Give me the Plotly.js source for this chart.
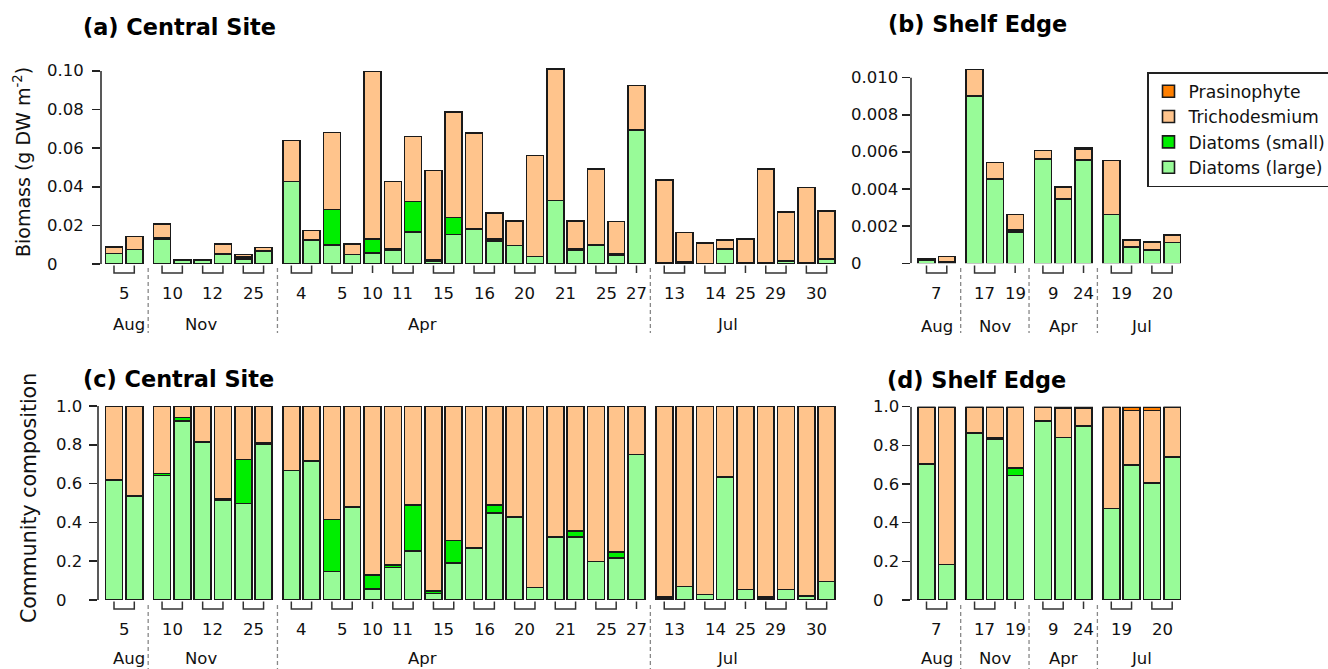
<!DOCTYPE html>
<html>
<head>
<meta charset="utf-8">
<script src="https://cdn.plot.ly/plotly-3.0.1.min.js"></script>
<style>
html,body{margin:0;padding:0;background:#fff;}
#chart{width:1328px;height:669px;}
</style>
</head>
<body>
<div id="chart"></div>
<script>
// ================= DATA =================
// Central Site: one entry per bar
const centralMonths = ["Aug","Aug","Nov","Nov","Nov","Nov","Nov","Nov",
  "Apr","Apr","Apr","Apr","Apr","Apr","Apr","Apr","Apr","Apr","Apr","Apr","Apr","Apr","Apr","Apr","Apr","Apr",
  "Jul","Jul","Jul","Jul","Jul","Jul","Jul","Jul","Jul"];
const centralDates = ["5","5","10","10","12","12","25","25",
  "4","4","5","5","10","11","11","15","15","16","16","20","20","21","21","25","25","27",
  "13","13","14","14","25","29","29","30","30"];

// (a) biomass, g DW m-2
const centralLarge = [0.0055,0.0076,0.0131,0.0022,0.0019,0.0053,0.0025,0.0068,
  0.0427,0.0124,0.0100,0.0049,0.0057,0.0072,0.0167,0.0016,0.0152,0.0180,0.0118,0.0096,0.0038,0.0328,0.0073,0.0097,0.0048,0.0694,
  0.0004,0.0011,0.0003,0.0079,0.0007,0.0005,0.0015,0.0007,0.0026];
const centralSmall = [0,0,0.0003,0.00005,0,0.0001,0.0011,0.00005,
  0,0,0.0183,0.0001,0.0072,0.0005,0.0157,0.0006,0.0089,0.0002,0.0011,0,0,0,0.0007,0,0.0006,0,
  0.0002,0.0001,0,0,0,0.0002,0,0.0001,0];
const centralTricho = [0.0032,0.0066,0.0072,0.00015,0.0004,0.0050,0.0014,0.0017,
  0.0212,0.0050,0.0399,0.0054,0.0869,0.0351,0.0337,0.0463,0.0548,0.0497,0.0134,0.0128,0.0525,0.0681,0.0144,0.0395,0.0167,0.0230,
  0.0428,0.0152,0.0107,0.0045,0.0124,0.0485,0.0253,0.0389,0.0250];
const centralPrasino = [0,0,0,0,0,0,0,0, 0,0,0,0,0,0,0,0,0,0,0,0,0,0,0,0,0,0, 0,0,0,0,0,0,0,0,0];

// (c) community composition (fractions)
const centralFracLarge = [0.619,0.536,0.641,0.924,0.813,0.517,0.498,0.804,
  0.667,0.716,0.146,0.478,0.057,0.168,0.253,0.033,0.192,0.265,0.450,0.428,0.065,0.325,0.325,0.198,0.218,0.751,
  0.009,0.069,0.028,0.634,0.055,0.010,0.055,0.019,0.095];
const centralFracSmall = [0,0,0.012,0.016,0,0.005,0.227,0.005,
  0,0,0.268,0.004,0.072,0.011,0.237,0.013,0.114,0.004,0.040,0,0,0,0.031,0,0.028,0,
  0.005,0,0,0,0,0.004,0,0.002,0];
const centralFracTricho = [0.381,0.464,0.347,0.060,0.187,0.478,0.275,0.191,
  0.333,0.284,0.586,0.518,0.871,0.821,0.510,0.954,0.694,0.731,0.510,0.572,0.935,0.675,0.644,0.802,0.754,0.249,
  0.986,0.931,0.972,0.366,0.945,0.986,0.945,0.979,0.905];
const centralFracPrasino = [0,0,0,0,0,0,0,0, 0,0,0,0,0,0,0,0,0,0,0,0,0,0,0,0,0,0, 0,0,0,0,0,0,0,0,0];

// Shelf Edge
const shelfMonths = ["Aug","Aug","Nov","Nov","Nov","Apr","Apr","Apr","Jul","Jul","Jul","Jul"];
const shelfDates = ["7","7","17","17","19","9","9","24","19","19","20","20"];

// (b) biomass
const shelfLarge = [0.00017,0.00007,0.00900,0.00452,0.00170,0.00560,0.00346,0.00557,0.00262,0.00088,0.00071,0.00112];
const shelfSmall = [0.00001,0,0,0.00003,0.00010,0.00002,0,0,0,0,0,0];
const shelfTricho = [0.00007,0.00029,0.00145,0.00089,0.00084,0.00045,0.00063,0.00060,0.00291,0.00036,0.00044,0.00040];
const shelfPrasino = [0,0,0,0,0,0,0.00002,0.00003,0,0.00002,0.00002,0];

// (d) composition
const shelfFracLarge = [0.705,0.183,0.864,0.833,0.645,0.924,0.840,0.900,0.474,0.697,0.604,0.741];
const shelfFracSmall = [0,0,0,0.005,0.038,0.004,0,0,0,0,0,0];
const shelfFracTricho = [0.295,0.817,0.136,0.162,0.317,0.072,0.153,0.094,0.526,0.284,0.377,0.259];
const shelfFracPrasino = [0,0,0,0,0,0,0.007,0.006,0,0.019,0.019,0];

// Tick values and labels
const biomassTicksA = [0,0.02,0.04,0.06,0.08,0.10];
const biomassTickTextA = ["0","0.02","0.04","0.06","0.08","0.10"];
const biomassTicksB = [0,0.002,0.004,0.006,0.008,0.010];
const biomassTickTextB = ["0","0.002","0.004","0.006","0.008","0.010"];
const compTicks = [0,0.2,0.4,0.6,0.8,1.0];
const compTickText = ["0","0.2","0.4","0.6","0.8","1.0"];

// ================= STYLE / LAYOUT =================
const W = 1328, H = 669;
const C_LARGE = "#98FB98", C_SMALL = "#00EE00", C_TRICHO = "#FFC48C", C_PRAS = "#FF7F00";
const OUTLINE = "#1a1a1a";
const FONT = "DejaVu Sans, Verdana, sans-serif";
const TXT = "#111";
const PITCH = 1.2, MGAP = 0.44, BARW = 1.0;
const U = 16.92; // px per x unit

function positions(months){
  const pos = []; let g = 0;
  for (let i = 0; i < months.length; i++){
    if (i > 0 && months[i] !== months[i-1]) g++;
    pos.push(i*PITCH + g*MGAP);
  }
  return pos;
}
function groups(months, dates, pos){
  const out = [];
  for (let i = 0; i < months.length; i++){
    const last = out[out.length-1];
    if (last && last.month === months[i] && last.date === dates[i]) { last.x.push(pos[i]); }
    else out.push({month: months[i], date: dates[i], x: [pos[i]]});
  }
  return out;
}
function monthBlocks(months, pos){
  const out = [];
  for (let i = 0; i < months.length; i++){
    const last = out[out.length-1];
    if (last && last.month === months[i]) last.x.push(pos[i]);
    else out.push({month: months[i], x: [pos[i]]});
  }
  return out;
}

const posC = positions(centralMonths);
const posS = positions(shelfMonths);

function barTraces(xa, ya, x, large, small, tricho, pras, showLegend){
  const common = {type:"bar", x:x, width:BARW, xaxis:xa, yaxis:ya, hoverinfo:"skip"};
  const mk = c => ({color:c, line:{color:OUTLINE, width:1.6}});
  return [
    Object.assign({}, common, {y:large, name:"Diatoms (large)", marker:mk(C_LARGE), legendgroup:"l", showlegend:showLegend}),
    Object.assign({}, common, {y:small, name:"Diatoms (small)", marker:mk(C_SMALL), legendgroup:"s", showlegend:showLegend}),
    Object.assign({}, common, {y:tricho, name:"Trichodesmium", marker:mk(C_TRICHO), legendgroup:"t", showlegend:showLegend}),
    Object.assign({}, common, {y:pras, name:"Prasinophyte", marker:mk(C_PRAS), legendgroup:"p", showlegend:showLegend})
  ];
}

const data = [].concat(
  barTraces("x","y", posC, centralLarge, centralSmall, centralTricho, centralPrasino, true),
  barTraces("x2","y2", posS, shelfLarge, shelfSmall, shelfTricho, shelfPrasino, false),
  barTraces("x3","y3", posC, centralFracLarge, centralFracSmall, centralFracTricho, centralFracPrasino, false),
  barTraces("x4","y4", posS, shelfFracLarge, shelfFracSmall, shelfFracTricho, shelfFracPrasino, false)
);

// pixel helpers
const px = v => v / W;
const py = v => 1 - v / H;
function xr(axisPx, endPx, firstPx){ return [(axisPx-firstPx)/U, (endPx-firstPx)/U]; }

function yAxis(domain, range, tickvals, anchor){
  return {domain:domain, range:range, tickvals:tickvals, anchor:anchor,
    showline:false, ticks:"outside", ticklen:8, tickwidth:1.5, tickcolor:"#222",
    showticklabels:false, showgrid:false, zeroline:false, fixedrange:true};
}
function xAxis(domain, range, anchor){
  return {domain:domain, range:range, anchor:anchor, showline:false, ticks:"", showticklabels:false,
    showgrid:false, zeroline:false, fixedrange:true};
}

const shapes = [];
const annotations = [];
const smallFont = {size:16.5, family:FONT, color:TXT};

// y axis line limited to the tick span, with left-aligned tick labels
function yDecor(xa, ya, tickvals, ticktext, labelLeftPx){
  shapes.push({type:"line", xref:xa+" domain", yref:ya, x0:0, x1:0,
    y0:tickvals[0], y1:tickvals[tickvals.length-1], line:{color:"#222", width:1.5}});
  tickvals.forEach((v, i) => annotations.push({xref:"paper", yref:ya, x:px(labelLeftPx), y:v,
    text:ticktext[i], showarrow:false, xanchor:"left", yanchor:"middle", borderpad:0, font:smallFont}));
}

function decorate(xa, pos, months, dates, bracketTop, bracketBot, sepTop, sepBot, dateY, monthY, monthXs){
  const gr = groups(months, dates, pos);
  gr.forEach(g => {
    const x1 = g.x[0], x2 = g.x[g.x.length-1];
    if (g.x.length > 1){
      shapes.push({type:"path", xref:xa, yref:"paper",
        path:`M${x1},${py(bracketTop)} L${x1},${py(bracketBot)} L${x2},${py(bracketBot)} L${x2},${py(bracketTop)}`,
        line:{color:"#333", width:1.5}});
    } else {
      shapes.push({type:"line", xref:xa, yref:"paper", x0:x1, x1:x1, y0:py(bracketTop), y1:py(bracketBot),
        line:{color:"#333", width:1.5}});
    }
    annotations.push({xref:xa, yref:"paper", x:(x1+x2)/2, y:py(dateY), text:g.date, showarrow:false,
      xanchor:"center", yanchor:"middle", font:smallFont});
  });
  const mb = monthBlocks(months, pos);
  mb.forEach((m, i) => {
    const cx = monthXs ? monthXs[i] : (m.x[0] + m.x[m.x.length-1]) / 2;
    annotations.push({xref:xa, yref:"paper", x:cx, y:py(monthY), text:m.month, showarrow:false,
      xanchor:"center", yanchor:"middle", font:smallFont});
    if (i > 0){
      const prev = mb[i-1];
      const sx = (prev.x[prev.x.length-1] + m.x[0]) / 2;
      shapes.push({type:"line", xref:xa, yref:"paper", x0:sx, x1:sx, y0:py(sepTop), y1:py(sepBot),
        line:{color:"#888", width:1.3, dash:"4px,3px"}});
    }
  });
}

const monthLabelXCentral = [0.89, 5.14, 18.26, 36.26];

decorate("x",  posC, centralMonths, centralDates, 265.5, 273, 268, 333, 293, 325, monthLabelXCentral);
decorate("x2", posS, shelfMonths,   shelfDates,   265.5, 273, 268, 333, 293, 326, null);
decorate("x3", posC, centralMonths, centralDates, 601.5, 609, 605, 669, 629, 658, monthLabelXCentral);
decorate("x4", posS, shelfMonths,   shelfDates,   601.5, 609, 605, 669, 629, 658, null);

yDecor("x",  "y",  biomassTicksA, biomassTickTextA, 46);
yDecor("x2", "y2", biomassTicksB, biomassTickTextB, 850);
yDecor("x3", "y3", compTicks, compTickText, 55);
yDecor("x4", "y4", compTicks, compTickText, 871.5);

// panel titles
const titleFont = {size:22.4, family:FONT, color:"#000"};
[["(a) Central Site",82,27],["(b) Shelf Edge",887,24],["(c) Central Site",82,379],["(d) Shelf Edge",886,380]]
  .forEach(t => annotations.push({xref:"paper", yref:"paper", x:px(t[1]), y:py(t[2]), text:"<b>"+t[0]+"</b>",
    showarrow:false, xanchor:"left", yanchor:"middle", borderpad:0, font:titleFont}));

annotations.push({xref:"paper", yref:"paper", x:px(22), y:py(162), text:"Biomass (g DW m<sup>-2</sup>)",
  textangle:-90, showarrow:false, xanchor:"center", yanchor:"middle", font:{size:19, family:FONT, color:TXT}});
annotations.push({xref:"paper", yref:"paper", x:px(29), y:py(498), text:"Community composition",
  textangle:-90, showarrow:false, xanchor:"center", yanchor:"middle", font:{size:20.5, family:FONT, color:TXT}});

const layout = {
  width:W, height:H,
  margin:{l:0, r:0, t:0, b:0, pad:0, autoexpand:false},
  paper_bgcolor:"#fff", plot_bgcolor:"rgba(0,0,0,0)",
  font:{family:FONT, color:TXT},
  barmode:"stack",
  hovermode:false,
  showlegend:true,
  legend:{x:px(1147), y:py(72), xanchor:"left", yanchor:"top", traceorder:"reversed",
    bgcolor:"#fff", bordercolor:"#222", borderwidth:1.5, font:{size:17.2, family:FONT, color:TXT}},
  // panel (a): 0 at 264 px, 0.10 at 71 px (range extended a little so tall bars are not clipped)
  xaxis:  xAxis([px(101), px(840)], xr(101, 840, 114), "y"),
  yaxis:  yAxis([py(264), py(264 - 0.1025*1930)], [0, 0.1025], biomassTicksA, "x"),
  // panel (b): 0 at 263.3 px, 0.010 at 77.7 px
  xaxis2: xAxis([px(911), px(1190)], xr(911, 1190, 926.5), "y2"),
  yaxis2: yAxis([py(263.3), py(263.3 - 0.0106*18560)], [0, 0.0106], biomassTicksB, "x2"),
  xaxis3: xAxis([px(98), px(840)], xr(98, 840, 114), "y3"),
  yaxis3: yAxis([py(600), py(406)], [0, 1], compTicks, "x3"),
  xaxis4: xAxis([px(911), px(1190)], xr(911, 1190, 926.5), "y4"),
  yaxis4: yAxis([py(600), py(406.7)], [0, 1], compTicks, "x4"),
  shapes:shapes,
  annotations:annotations
};

Plotly.newPlot("chart", data, layout, {staticPlot:true, displayModeBar:false});
</script>
</body>
</html>
